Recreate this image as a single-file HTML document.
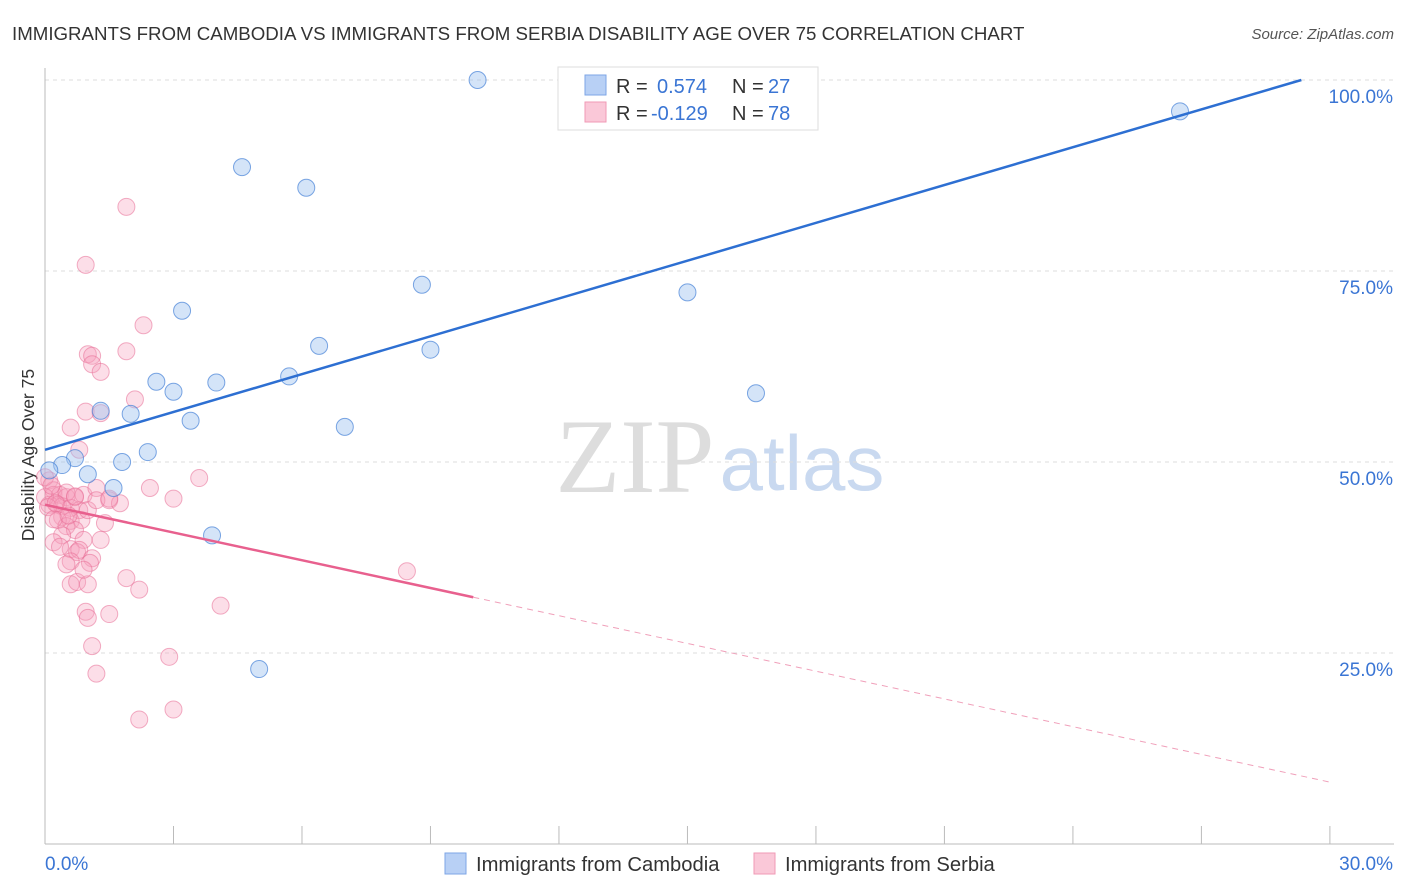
<!DOCTYPE html>
<html><head><meta charset="utf-8"><style>
body{margin:0;background:#fff;font-family:"Liberation Sans",sans-serif;}
svg{display:block}
</style></head><body>
<svg id="chart" width="1406" height="892">
<text x="12" y="40" font-size="18.7" fill="#333">IMMIGRANTS FROM CAMBODIA VS IMMIGRANTS FROM SERBIA DISABILITY AGE OVER 75 CORRELATION CHART</text>
<text x="1394" y="39" font-size="15" fill="#555" font-style="italic" text-anchor="end">Source: ZipAtlas.com</text>
<text x="635" y="492" font-size="106" fill="#ddd" font-family="Liberation Serif,serif" text-anchor="middle">ZIP</text>
<text x="802" y="490" font-size="78" fill="#c9d9f0" text-anchor="middle">atlas</text>
<text transform="translate(34,455) rotate(-90)" font-size="17.5" fill="#333" text-anchor="middle">Disability Age Over 75</text>
<g id="grid"></g><g id="pts"></g><g id="lines"></g>
<g>
<rect x="558" y="67" width="260" height="63" fill="#fff" stroke="#ddd"/>
<rect x="585" y="75" width="21" height="20" fill="#b8d0f5" stroke="#7ea6e6"/>
<rect x="585" y="102" width="21" height="20" fill="#fac8d8" stroke="#f09ab6"/>
<text x="616" y="93" font-size="20" fill="#333">R = </text><text x="657" y="93" font-size="20" fill="#3a75d4">0.574</text>
<text x="732" y="93" font-size="20" fill="#333">N = </text><text x="768" y="93" font-size="20" fill="#3a75d4">27</text>
<text x="616" y="120" font-size="20" fill="#333">R = </text><text x="651" y="120" font-size="20" fill="#3a75d4">-0.129</text>
<text x="732" y="120" font-size="20" fill="#333">N = </text><text x="768" y="120" font-size="20" fill="#3a75d4">78</text>
</g>
<g>
<rect x="445" y="853" width="21" height="21" fill="#b8d0f5" stroke="#7ea6e6"/>
<text x="476" y="871" font-size="20.2" fill="#333">Immigrants from Cambodia</text>
<rect x="754" y="853" width="21" height="21" fill="#fac8d8" stroke="#f09ab6"/>
<text x="785" y="871" font-size="20.2" fill="#333">Immigrants from Serbia</text>
</g>
<text x="45" y="870" font-size="19" fill="#3a75d4">0.0%</text>
<text x="1393" y="870" font-size="19" fill="#3a75d4" text-anchor="end">30.0%</text>
</svg>
<script>
const yTicks=[25,50,75,100];
const yTickLabels=["25.0%","50.0%","75.0%","100.0%"];
const xTicks=[0,3,6,9,12,15,18,21,24,27,30];
const blueX=[10.1,26.5,4.6,6.1,8.8,3.2,15.0,6.4,9.0,2.6,3.0,4.0,5.7,16.6,1.3,2.0,3.4,7.0,2.4,1.8,0.7,0.4,1.0,0.1,1.6,3.9,5.0];
const blueY=[100,95.9,88.6,85.9,73.2,69.8,72.2,65.2,64.7,60.5,59.2,60.4,61.2,59.0,56.7,56.3,55.4,54.6,51.3,50.0,50.5,49.6,48.4,48.9,46.6,40.4,22.9];
const pinkX=[1.9,0.95,2.3,1.0,1.9,1.1,1.1,1.3,2.1,0.95,1.3,0.6,0.8,3.6,3.0,0.1,0.2,0.2,0.35,0.5,0.7,0.9,1.2,1.5,1.75,0.1,0.3,0.4,0.6,0.8,0.4,0.6,0.3,0.85,1.4,0.5,0.7,0.4,0.9,0.2,0.6,0.75,0.8,1.1,0.6,1.05,1.9,2.2,0.6,0.75,1.0,0.95,1.0,1.5,4.1,1.1,1.2,2.9,3.0,2.2,8.45,0,0,0.07,0.2,0.5,0.7,1.0,1.2,1.3,0.5,0.9,0.35,1.5,2.45,0.25,0.15,0.55];
const pinkY=[83.4,75.8,67.9,64.1,64.5,63.9,62.8,61.8,58.2,56.6,56.4,54.5,51.6,47.9,45.2,47.6,46.3,45.7,45.7,45.4,45.4,45.7,46.6,45.0,44.6,44.4,44.4,44.2,44.0,43.7,42.8,42.3,42.4,42.4,42.0,41.6,41.1,40.4,39.8,39.5,38.6,38.2,38.5,37.4,37.0,36.8,34.8,33.3,34.0,34.3,34.0,30.4,29.6,30.1,31.2,25.9,22.3,24.5,17.6,16.3,35.7,48.0,45.4,44.1,42.5,46.0,45.5,43.7,45.0,39.8,36.6,35.9,38.9,45.2,46.6,44.6,46.9,43.0];
const blueFit=[51.6,1.65];
const pinkFit=[44.4,-1.21];
const pinkSolidEnd=10.0;
const X=v=>45+v*42.83, Y=v=>844-v*7.64;
const ns="http://www.w3.org/2000/svg";
function mk(tag,attrs,parent){const e=document.createElementNS(ns,tag);for(const k in attrs)e.setAttribute(k,attrs[k]);parent.appendChild(e);return e;}
const grid=document.getElementById('grid');
yTicks.forEach((t,i)=>{
 const l=mk('line',{x1:45,x2:1394,y1:Y(t),y2:Y(t),stroke:'#ddd','stroke-dasharray':'4,4'},grid);
 
 
 const tx=mk('text',{x:1393,y:Y(t)+23,'font-size':19,fill:'#3a75d4','text-anchor':'end'},grid);
 tx.textContent=yTickLabels[i];
 
 
});
const ax=mk('line',{x1:45,x2:45,y1:68,y2:844,stroke:'#bbb'},grid);


const bx=mk('line',{x1:45,x2:1394,y1:844,y2:844,stroke:'#bbb'},grid);


xTicks.forEach(t=>{
 const l=mk('line',{x1:X(t),x2:X(t),y1:826,y2:844,stroke:'#bbb'},grid);
 
 
});
const pts=document.getElementById('pts');
pinkX.forEach((x,i)=>{
 const c=mk('circle',{cx:X(x),cy:Y(pinkY[i]),r:8.5,fill:'rgba(246,160,188,0.35)',stroke:'rgba(232,110,150,0.55)','stroke-width':1},pts);
 
 
});
blueX.forEach((x,i)=>{
 const c=mk('circle',{cx:X(x),cy:Y(blueY[i]),r:8.5,fill:'rgba(160,195,240,0.45)',stroke:'rgba(70,130,215,0.7)','stroke-width':1},pts);
 
 
});
const lines=document.getElementById('lines');
const bEnd=(100-blueFit[0])/blueFit[1];
const bl=mk('line',{x1:X(0),y1:Y(blueFit[0]),x2:X(bEnd),y2:Y(100),stroke:'#2d6fd2','stroke-width':2.5},lines);


const p1=mk('line',{x1:X(0),y1:Y(pinkFit[0]),x2:X(pinkSolidEnd),y2:Y(pinkFit[0]+pinkFit[1]*pinkSolidEnd),stroke:'#e8608e','stroke-width':2.5},lines);


const p2=mk('line',{x1:X(pinkSolidEnd),y1:Y(pinkFit[0]+pinkFit[1]*pinkSolidEnd),x2:X(30),y2:Y(pinkFit[0]+pinkFit[1]*30),stroke:'#f0a0ba','stroke-width':1,'stroke-dasharray':'6,5'},lines);


</script>
</body></html>
